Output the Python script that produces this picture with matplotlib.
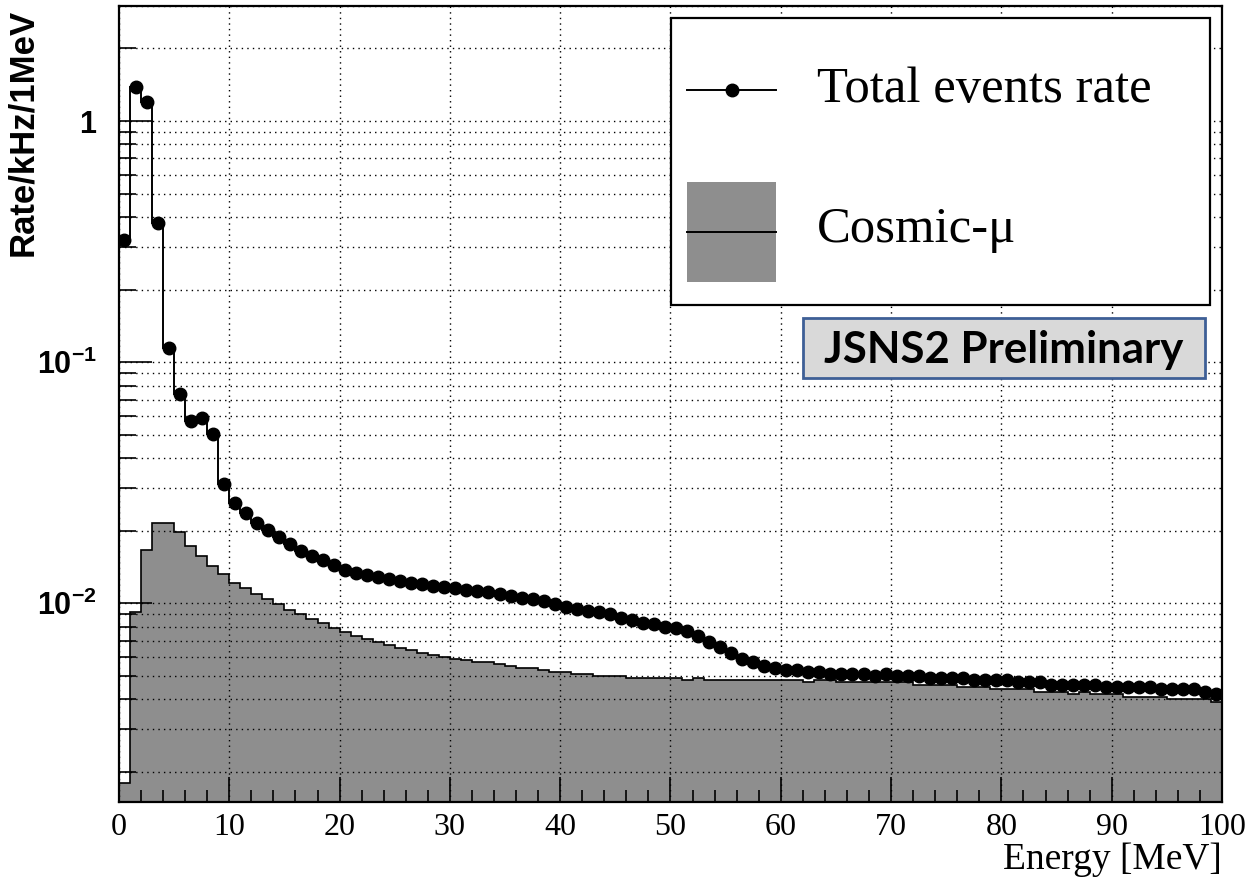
import matplotlib.pyplot as plt
import numpy as np
from matplotlib.ticker import LogLocator, NullFormatter, FixedLocator, MultipleLocator
from matplotlib.patches import Rectangle
from matplotlib.lines import Line2D

plt.rcParams['font.family'] = ['Liberation Sans', 'DejaVu Sans']
plt.rcParams['mathtext.fontset'] = 'custom'
plt.rcParams['mathtext.bf'] = 'Liberation Sans:bold'
plt.rcParams['mathtext.rm'] = 'Liberation Sans'
plt.rcParams['mathtext.it'] = 'Liberation Sans:italic'

# 1 MeV bins, 0..100 MeV
edges = np.arange(0, 101, 1)
centers = edges[:-1] + 0.5

total = [0.32, 1.39, 1.20, 0.377, 0.115, 0.0737, 0.0571, 0.0589, 0.0502, 0.0312,
         0.0260, 0.0236, 0.0215, 0.0201, 0.0188, 0.0177, 0.0165, 0.0157, 0.0151, 0.0144,
         0.0138, 0.0134, 0.0131, 0.0128, 0.0126, 0.0124, 0.0122, 0.0120, 0.0118, 0.0117,
         0.0116, 0.0114, 0.0113, 0.0111, 0.0109, 0.0107, 0.0105, 0.0104, 0.0102, 0.0099,
         0.0097, 0.0095, 0.0093, 0.0092, 0.0090, 0.0087, 0.0085, 0.0083, 0.0082, 0.0080,
         0.0079, 0.0077, 0.0073, 0.0069, 0.0066, 0.0062, 0.0059, 0.0057, 0.0055, 0.0054,
         0.0053, 0.0053, 0.0052, 0.0052, 0.0051, 0.0051, 0.0051, 0.0051, 0.0050, 0.0051,
         0.0050, 0.0050, 0.0050, 0.0049, 0.0049, 0.0049, 0.0049, 0.0048, 0.0048, 0.0048,
         0.0048, 0.0047, 0.0047, 0.0047, 0.0046, 0.0046, 0.0046, 0.0046, 0.0046, 0.0045,
         0.0045, 0.0045, 0.0045, 0.0045, 0.0044, 0.0044, 0.0044, 0.0044, 0.0043, 0.0042]

cosmic = [0.0018, 0.0092, 0.0166, 0.0216, 0.0216, 0.0198, 0.0173, 0.0157, 0.0143, 0.0132,
          0.0122, 0.0116, 0.0109, 0.0104, 0.0099, 0.0094, 0.0090, 0.0086, 0.0083, 0.0079,
          0.0076, 0.0073, 0.0071, 0.0069, 0.0067, 0.00655, 0.0064, 0.0062, 0.0061, 0.0060,
          0.0059, 0.0058, 0.0057, 0.0057, 0.0056, 0.0055, 0.0054, 0.0054, 0.0053, 0.0052,
          0.0052, 0.0051, 0.0051, 0.0050, 0.0050, 0.0050, 0.0049, 0.0049, 0.0049, 0.0049,
          0.0049, 0.0048, 0.0049, 0.0048, 0.0048, 0.0048, 0.0048, 0.0048, 0.0048, 0.0048,
          0.0048, 0.0048, 0.0047, 0.0048, 0.0048, 0.0047, 0.0047, 0.0047, 0.0047, 0.0047,
          0.0047, 0.0047, 0.0046, 0.0046, 0.0046, 0.0046, 0.0045, 0.0045, 0.0045, 0.0044,
          0.0044, 0.0044, 0.0044, 0.0043, 0.0043, 0.0043, 0.0042, 0.0043, 0.0042, 0.0042,
          0.0042, 0.0041, 0.0041, 0.0041, 0.0041, 0.0040, 0.0040, 0.0040, 0.0040, 0.0039]

ytick_vals = [1e-2, 1e-1, 1]
ytick_labels = [r'$\mathbf{10^{-2}}$', r'$\mathbf{10^{-1}}$', r'$\mathbf{1}$']
xtick_vals = list(range(0, 101, 10))

grey = '#8e8e8e'

fig = plt.figure(figsize=(12.55, 8.86), dpi=100)
ax = fig.add_axes([0.0948, 0.0948, 0.8789, 0.8984])

ax.stairs(cosmic, edges, baseline=1e-5, fill=True, facecolor=grey,
          edgecolor='none', zorder=1)
ax.stairs(cosmic, edges, baseline=1e-5, color='black', lw=1.2, zorder=1.1)
ax.stairs(total, edges, baseline=None, color='black', lw=1.4, zorder=3)
ax.plot(centers, total, 'o', color='black', ms=9, zorder=3.1)

ax.set_yscale('log')
ax.set_xlim(0, 100)
ax.set_ylim(0.0015, 3.0)

ax.xaxis.set_major_locator(FixedLocator(xtick_vals))
ax.xaxis.set_minor_locator(MultipleLocator(2))
ax.set_xticklabels([str(v) for v in xtick_vals], family='Liberation Serif', fontsize=23)

ax.yaxis.set_major_locator(FixedLocator(ytick_vals))
ax.yaxis.set_minor_locator(LogLocator(base=10, subs=np.arange(2, 10), numticks=20))
ax.yaxis.set_minor_formatter(NullFormatter())
ax.set_yticklabels(ytick_labels, fontsize=22)

ax.tick_params(axis='x', which='major', direction='in', length=18, width=1.2, pad=8)
ax.tick_params(axis='x', which='minor', direction='in', length=9, width=1.2)
ax.tick_params(axis='y', which='major', direction='in', length=24, width=1.2, pad=16)
ax.tick_params(axis='y', which='minor', direction='in', length=12, width=1.2)

ax.set_axisbelow(False)
ax.grid(True, which='major', axis='x', color='black', lw=1.0, ls=(0, (1, 3)))
ax.grid(True, which='both', axis='y', color='black', lw=1.0, ls=(0, (1, 3)))

for s in ax.spines.values():
    s.set_linewidth(1.6)

ax.set_xlabel('Energy [MeV]', family='Liberation Serif', fontsize=27, loc='right', labelpad=0)
ax.set_ylabel('Rate/kHz/1MeV', family='Liberation Sans', fontweight='bold', fontsize=25, loc='top')
ax.yaxis.set_label_coords(-0.072, 0.997)

# legend drawn by hand, ROOT style
ax.add_patch(Rectangle((0.5005, 0.6244), 0.4886, 0.3606, transform=ax.transAxes,
                       facecolor='white', edgecolor='black', lw=1.6, zorder=5))
ax.add_line(Line2D([0.515, 0.596], [0.8945, 0.8945], transform=ax.transAxes,
                   color='black', lw=1.4, zorder=6))
ax.add_line(Line2D([0.5558], [0.8945], transform=ax.transAxes, marker='o',
                   color='black', ms=9, zorder=6))
ax.text(0.6328, 0.8945, 'Total events rate', transform=ax.transAxes,
        family='Liberation Serif', fontsize=36.5, va='center', ha='left', zorder=6)
ax.add_patch(Rectangle((0.515, 0.6533), 0.081, 0.1256, transform=ax.transAxes,
                       facecolor=grey, edgecolor='none', zorder=6))
ax.add_line(Line2D([0.515, 0.596], [0.716, 0.716], transform=ax.transAxes,
                   color='black', lw=1.4, zorder=7))
ax.text(0.6328, 0.7186, 'Cosmic-μ', transform=ax.transAxes,
        family='Liberation Serif', fontsize=36.5, va='center', ha='left', zorder=6)

# preliminary tag
ax.add_patch(Rectangle((0.6201, 0.5327), 0.3645, 0.0753, transform=ax.transAxes,
                       facecolor='#d9d9d9', edgecolor='#3e5f96', lw=2, zorder=5))
ax.text(0.8023, 0.5678, 'JSNS2 Preliminary', transform=ax.transAxes,
        family='Lato', fontweight='bold', fontsize=31.5, va='center', ha='center', zorder=6)

fig.savefig('out.png', dpi=100)
